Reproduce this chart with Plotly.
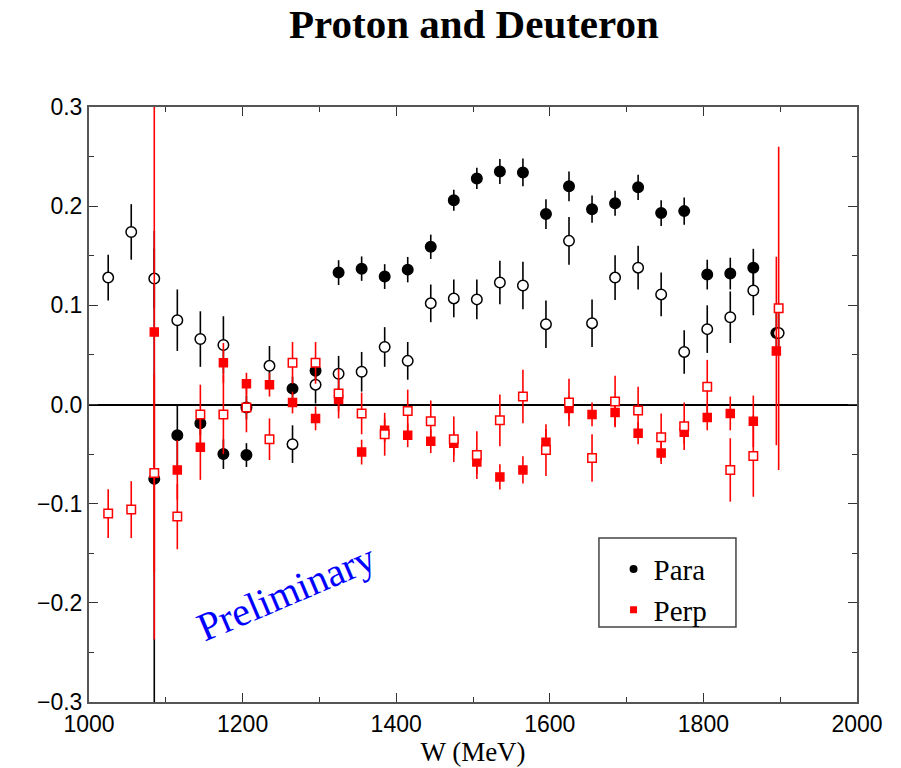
import plotly.graph_objects as go

# ---------------- data ----------------
W = [1025, 1055, 1085, 1115, 1145, 1175, 1205, 1235, 1265, 1295,
     1325, 1355, 1385, 1415, 1445, 1475, 1505, 1535, 1565, 1595,
     1625, 1655, 1685, 1715, 1745, 1775, 1805, 1835, 1865, 1895]
W_open = W[:-1] + [1898]

# Para, proton (filled black circles)
para_p = [None, None, -0.075, -0.031, -0.019, -0.050, -0.051, None, 0.016, 0.034,
          0.133, 0.137, 0.129, 0.136, 0.159, 0.206, 0.228, 0.235, 0.234, 0.192,
          0.220, 0.197, 0.203, 0.219, 0.193, 0.195, 0.131, 0.132, 0.138, 0.072]
para_p_err = [None, None, 0.25, 0.031, 0.012, 0.015, 0.012, None, 0.012, 0.012,
              0.0125, 0.0123, 0.0125, 0.0128, 0.0123, 0.0106, 0.0108, 0.0126, 0.014, 0.015,
              0.015, 0.0138, 0.0126, 0.0128, 0.013, 0.0138, 0.015, 0.016, 0.019, 0.02]

# Para, deuteron (open black circles)
para_d = [0.128, 0.174, 0.127, 0.085, 0.066, 0.060, -0.003, 0.039, -0.040, 0.020,
          0.031, 0.033, 0.058, 0.044, 0.102, 0.107, 0.106, 0.123, 0.120, 0.081,
          0.165, 0.082, 0.128, 0.138, 0.111, 0.053, 0.076, 0.088, 0.115, 0.072]
para_d_err = [0.023, 0.028, 0.030, 0.031, 0.028, 0.029, 0.012, 0.020, 0.019, 0.019,
              0.018, 0.020, 0.020, 0.019, 0.019, 0.019, 0.020, 0.022, 0.024, 0.024,
              0.024, 0.024, 0.0225, 0.022, 0.022, 0.022, 0.024, 0.026, 0.025, 0.02]

# Perp, proton (filled red squares)
perp_p = [None, None, 0.073, -0.066, -0.043, 0.042, 0.021, 0.020, 0.002, -0.014,
          0.005, -0.048, -0.026, -0.031, -0.037, -0.039, -0.058, -0.073, -0.066, -0.038,
          -0.004, -0.010, -0.008, -0.029, -0.049, -0.028, -0.013, -0.009, -0.017, 0.054]
perp_p_err = [None, None, 0.31, 0.030, 0.033, 0.020, 0.011, 0.012, 0.011, 0.012,
              0.012, 0.0125, 0.012, 0.012, 0.012, 0.012, 0.012, 0.0127, 0.0137, 0.013,
              0.012, 0.012, 0.014, 0.011, 0.011, 0.012, 0.013, 0.017, 0.026, 0.095]

# Perp, deuteron (open red squares)
perp_d = [-0.110, -0.106, -0.069, -0.113, -0.010, -0.010, -0.003, -0.035, 0.042, 0.042,
          0.011, -0.009, -0.030, -0.0065, -0.017, -0.035, -0.051, -0.016, 0.008, -0.046,
          0.002, -0.054, 0.003, -0.006, -0.033, -0.022, 0.018, -0.066, -0.052, 0.097]
perp_d_err = [0.0245, 0.0287, 0.10, 0.033, 0.030, 0.040, 0.025, 0.021, 0.021, 0.021,
              0.025, 0.021, 0.0216, 0.0215, 0.021, 0.023, 0.024, 0.026, 0.027, 0.026,
              0.024, 0.024, 0.026, 0.024, 0.024, 0.024, 0.027, 0.032, 0.041, 0.163]

x_ticks = [1000, 1200, 1400, 1600, 1800, 2000]
y_ticks = [-0.3, -0.2, -0.1, 0.0, 0.1, 0.2, 0.3]
y_labels = ["\u22120.3", "\u22120.2", "\u22120.1", "0.0", "0.1", "0.2", "0.3"]

RED = "#ff0000"
SERIF = "Liberation Serif, Times New Roman, serif"
SANS = "Liberation Sans, Arial, sans-serif"

fig = go.Figure()

def add(x, y, err, symbol, fill, edge, size, ecolor):
    fig.add_trace(go.Scatter(
        x=x, y=y, mode="markers", showlegend=False,
        marker=dict(symbol=symbol, size=size, color=fill,
                    line=dict(color=edge, width=1.5)),
        error_y=dict(type="data", array=err, visible=True,
                     color=ecolor, thickness=1.6, width=0),
    ))

add(W, para_p, para_p_err, "circle", "black", "black", 10.5, "black")
add(W_open, para_d, para_d_err, "circle", "white", "black", 10.5, "black")
add(W, perp_p, perp_p_err, "square", RED, RED, 8, RED)
add(W_open, perp_d, perp_d_err, "square", "white", RED, 8.5, RED)

# legend entries
fig.add_trace(go.Scatter(x=[None], y=[None], mode="markers", name="Para",
                         marker=dict(symbol="circle", size=8, color="black")))
fig.add_trace(go.Scatter(x=[None], y=[None], mode="markers", name="Perp",
                         marker=dict(symbol="square", size=7, color=RED)))

axis_common = dict(
    showline=True, linecolor="#555555", linewidth=2, mirror="allticks",
    ticks="inside", ticklen=9, tickwidth=1.2, tickcolor="#333333",
    showgrid=False, automargin=False,
    tickfont=dict(family=SANS, size=23, color="black"),
)

fig.update_xaxes(range=[1000, 2000], tickvals=x_ticks,
                 ticktext=[str(v) for v in x_ticks],
                 minor=dict(dtick=100, tick0=1000, ticks="inside", ticklen=5,
                            tickcolor="#333333", tickwidth=1.2),
                 zeroline=False,
                 title=dict(text="W (MeV)", font=dict(family=SERIF, size=27, color="black"),
                            standoff=4),
                 **axis_common)
fig.update_yaxes(range=[-0.3, 0.3], tickvals=y_ticks, ticktext=y_labels,
                 minor=dict(dtick=0.05, tick0=0, ticks="inside", ticklen=5,
                            tickcolor="#333333", tickwidth=1.2),
                 zeroline=True, zerolinecolor="black", zerolinewidth=1.5,
                 **axis_common)

fig.update_layout(
    width=901, height=768,
    margin=dict(l=89, r=44, t=107, b=66),
    paper_bgcolor="white", plot_bgcolor="white",
    title=dict(text="<b>Proton and Deuteron</b>", x=0.526, xanchor="center",
               y=0.969, yanchor="middle", yref="container",
               font=dict(family=SERIF, size=41, color="black")),
    legend=dict(x=0.683, y=0.266, xanchor="left", yanchor="top",
                bgcolor="rgba(0,0,0,0)", borderwidth=0,
                font=dict(family=SERIF, size=29, color="black"),
                tracegroupgap=0),
    shapes=[dict(type="rect", xref="paper", yref="paper",
                 x0=0.664, x1=0.8424, y0=0.126, y1=0.2756,
                 line=dict(color="#444444", width=1.5), fillcolor="white",
                 layer="below")],
    annotations=[dict(text="Preliminary", x=1257, y=-0.19, xref="x", yref="y",
                      showarrow=False, textangle=-23,
                      font=dict(family=SERIF, size=40, color="blue"))],
)

fig.write_html("out.html")
